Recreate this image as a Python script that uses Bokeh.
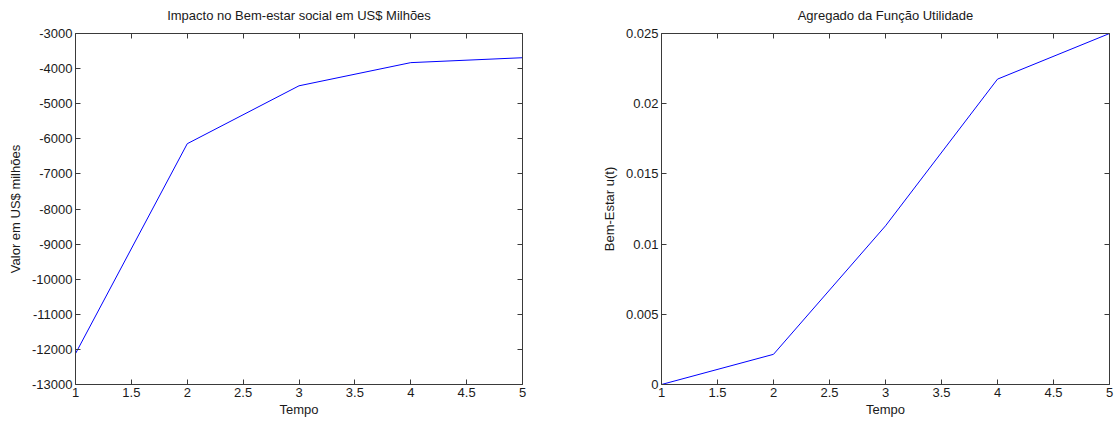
from bokeh.plotting import figure
from bokeh.layouts import row
from bokeh.models import Range1d, FixedTicker, LinearAxis, CustomJSTickFormatter
from bokeh.embed import file_html
from bokeh.resources import INLINE

# ---- data ----
tempo = [1, 2, 3, 4, 5]
impacto = [-12120, -6140, -4490, -3830, -3690]
utilidade = [0.0, 0.00215, 0.0113, 0.02175, 0.025]

x_ticks = [1, 1.5, 2, 2.5, 3, 3.5, 4, 4.5, 5]
x_labels = ["1", "1.5", "2", "2.5", "3", "3.5", "4", "4.5", "5"]
y1_ticks = [-13000, -12000, -11000, -10000, -9000, -8000, -7000, -6000, -5000, -4000, -3000]
y1_labels = ["-13000", "-12000", "-11000", "-10000", "-9000", "-8000", "-7000", "-6000", "-5000", "-4000", "-3000"]
y2_ticks = [0, 0.005, 0.01, 0.015, 0.02, 0.025]
y2_labels = ["0", "0.005", "0.01", "0.015", "0.02", "0.025"]

title1 = "Impacto no Bem-estar social em US$ Milhões"
title2 = "Agregado da Função Utilidade"
xlabel = "Tempo"
ylabel1 = "Valor em US$ milhões"
ylabel2 = "Bem-Estar u(t)"

FONT = "Liberation Sans"
FS = "13px"
SPINE = "#3a3a3a"
TXT = "#1a1a1a"


def fmt(ticks, labels):
    return CustomJSTickFormatter(args=dict(t=ticks, l=labels),
                                 code="const i = t.indexOf(tick); return i >= 0 ? l[i] : String(tick);")


def style_axis(ax, ticks, labels, show_labels=True):
    ax.ticker = FixedTicker(ticks=ticks)
    ax.major_tick_in = 5
    ax.major_tick_out = 0
    ax.minor_tick_in = 0
    ax.minor_tick_out = 0
    ax.axis_line_color = SPINE
    ax.major_tick_line_color = SPINE
    ax.major_label_text_font = FONT
    ax.major_label_text_color = TXT
    ax.axis_label_text_font = FONT
    ax.axis_label_text_font_size = FS
    ax.axis_label_text_font_style = "normal"
    ax.axis_label_text_color = TXT
    if show_labels:
        ax.formatter = fmt(ticks, labels)
        ax.major_label_text_font_size = FS
        ax.major_label_standoff = 3
    else:
        ax.formatter = CustomJSTickFormatter(code="return '';")
        ax.major_label_text_font_size = "1px"
        ax.major_label_standoff = 0


def make(title, xs, ys, yr, yt, yl, ylabel, border_left, border_right, fw):
    p = figure(output_backend="svg", toolbar_location=None,
               frame_width=fw, frame_height=351,
               min_border_left=border_left, min_border_right=border_right,
               min_border_top=33, min_border_bottom=37,
               x_range=Range1d(1, 5), y_range=Range1d(*yr))
    p.grid.visible = False
    p.outline_line_color = None
    p.background_fill_color = "white"
    p.border_fill_color = "white"
    style_axis(p.xaxis[0], x_ticks, x_labels)
    style_axis(p.yaxis[0], yt, yl)
    p.xaxis[0].axis_label = xlabel
    p.xaxis[0].axis_label_standoff = 2
    p.yaxis[0].axis_label = ylabel
    p.yaxis[0].axis_label_standoff = 6
    # top axis: inward ticks, its label serves as the chart title
    top = LinearAxis()
    style_axis(top, x_ticks, x_labels, show_labels=False)
    top.axis_label = title
    top.axis_label_standoff = 11
    p.add_layout(top, "above")
    right = LinearAxis()
    style_axis(right, yt, yl, show_labels=False)
    p.add_layout(right, "right")
    p.line(xs, ys, line_color="#0000ff", line_width=1)
    return p


p1 = make(title1, tempo, impacto, (-13000, -3000), y1_ticks, y1_labels, ylabel1, 75, 10, 447)
p2 = make(title2, tempo, utilidade, (0, 0.025), y2_ticks, y2_labels, ylabel2, 129, 8, 448)

layout = row(p1, p2)
open("out.html", "w").write(file_html(layout, INLINE))
